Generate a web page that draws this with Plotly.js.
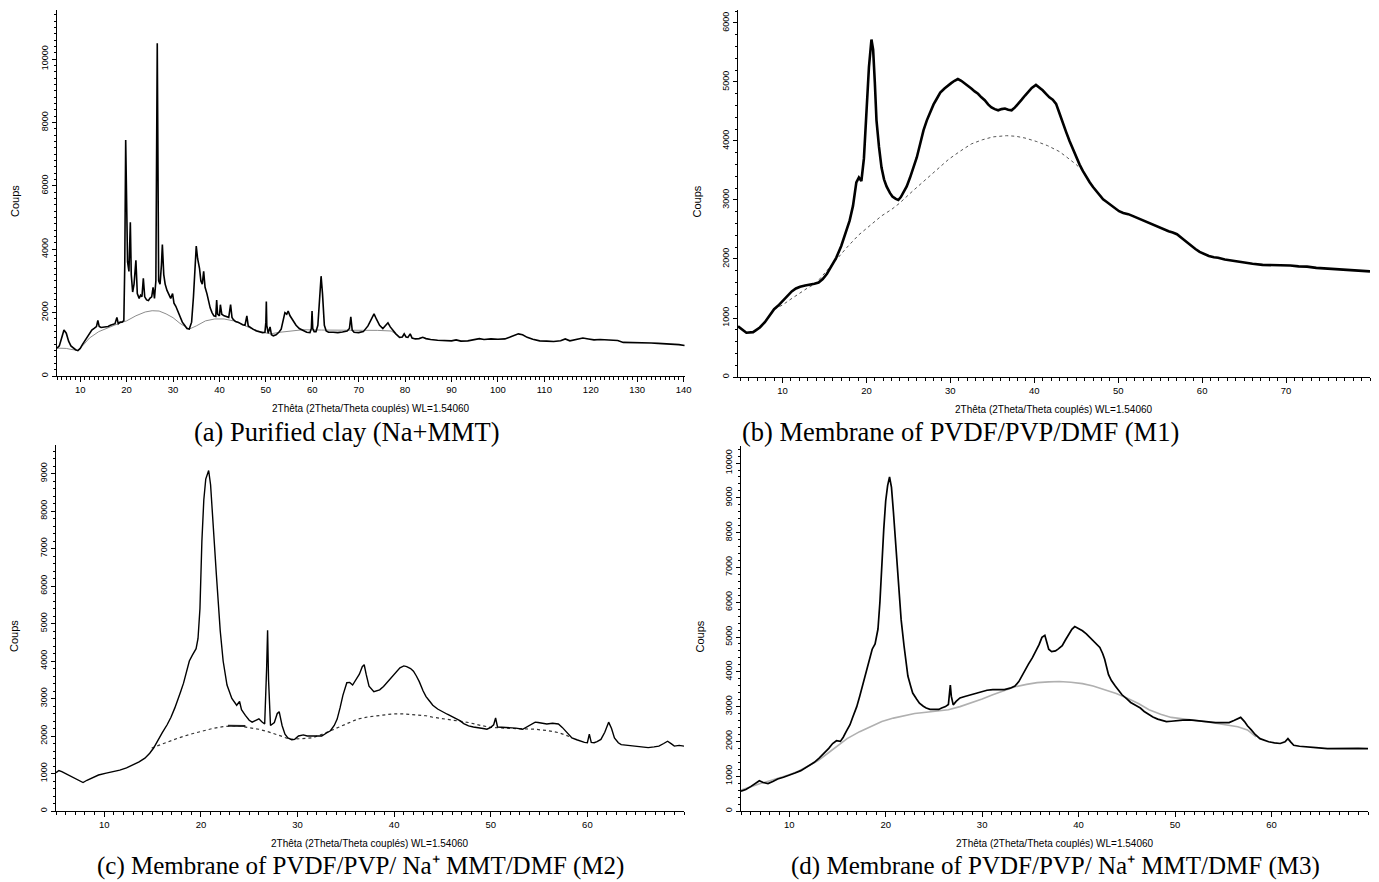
<!DOCTYPE html>
<html><head><meta charset="utf-8">
<script src="https://cdn.plot.ly/plotly-3.0.1.min.js"></script>
<style>html,body{margin:0;padding:0;background:#fff}#chart{width:1379px;height:882px}</style>
</head><body><div id="chart"></div>
<script>
// ---------- (a) Purified clay (Na+MMT) ----------
const aTheta = [5.0,5.5,6.0,6.5,7.0,7.5,8.0,8.5,9.0,9.5,10.0,10.5,11.0,11.5,12.0,12.5,13.0,13.5,13.8,14.1,14.5,15.0,15.5,16.0,16.5,17.0,17.5,17.9,18.2,18.6,19.0,19.4,19.6,19.8,20.0,20.2,20.5,20.8,21.0,21.3,21.6,22.0,22.3,22.7,23.0,23.3,23.6,23.9,24.3,24.7,25.0,25.4,25.7,26.0,26.3,26.6,26.9,27.2,27.5,27.7,28.0,28.3,28.7,29.0,29.5,29.9,30.2,30.6,31.0,31.5,32.0,32.5,33.0,33.5,34.0,34.4,34.8,35.0,35.3,35.7,36.0,36.3,36.6,36.9,37.3,37.7,38.0,38.4,38.8,39.2,39.4,39.6,40.0,40.2,40.5,41.0,41.5,42.0,42.4,42.7,43.0,43.5,44.0,44.5,45.0,45.5,45.9,46.2,46.7,47.3,48.0,48.7,49.3,49.8,50.0,50.1,50.2,50.5,50.9,51.2,51.6,52.2,52.8,53.3,53.7,54.1,54.5,54.8,55.2,55.8,56.5,57.2,58.0,58.8,59.5,59.8,59.95,60.1,60.4,60.8,61.2,61.6,61.9,62.2,62.6,63.0,63.5,64.5,65.5,66.5,67.5,68.0,68.3,68.6,69.0,70.0,71.0,72.0,72.6,73.3,73.8,74.5,75.2,75.8,76.3,76.8,77.4,78.0,78.8,79.4,79.8,80.2,80.6,81.1,81.5,82.2,83.0,83.8,84.5,85.5,87.0,88.5,90.0,91.0,92.0,93.5,95.0,96.0,97.0,98.5,100.0,101.5,102.5,103.5,104.4,105.3,106.3,107.5,109.0,110.5,112.0,113.5,114.5,115.5,117.0,118.3,119.5,120.7,122.0,123.5,124.6,125.8,127.0,128.5,130.0,131.5,133.0,134.5,136.0,137.5,139.0,140.2];
const aCounts = [880,950,1200,1450,1350,1100,950,880,830,800,870,1000,1120,1250,1360,1450,1500,1560,1750,1560,1530,1540,1570,1560,1600,1620,1650,1850,1650,1700,1700,1750,3500,7450,5000,3600,3300,4850,3200,2650,2900,3650,2600,2450,2550,2500,3080,2500,2400,2380,2450,2500,2800,2450,3000,10500,3000,2900,3500,4150,3200,2900,2700,2600,2450,2600,2300,2200,2050,1850,1700,1600,1500,1480,1700,2500,3800,4100,3700,3400,3000,2900,3300,2800,2600,2300,2150,2000,1900,1880,2400,1950,1900,2250,1950,1900,1880,1850,2250,1850,1780,1720,1700,1650,1620,1600,1900,1580,1520,1470,1420,1380,1370,1380,1700,2350,1600,1350,1550,1300,1270,1300,1380,1480,1800,2000,1950,2050,1900,1750,1600,1500,1430,1380,1370,1500,2050,1500,1400,1400,1600,2600,3150,2600,1600,1420,1380,1380,1370,1390,1420,1500,1870,1450,1380,1370,1400,1580,1750,1960,1800,1600,1500,1600,1680,1550,1420,1330,1220,1230,1330,1230,1220,1330,1200,1170,1180,1220,1180,1150,1130,1120,1110,1140,1100,1110,1140,1180,1150,1170,1160,1170,1220,1290,1330,1300,1220,1160,1110,1100,1090,1110,1170,1110,1150,1200,1170,1140,1150,1140,1150,1120,1060,1060,1050,1060,1040,1030,1020,1010,990,960];
const aBgTheta = [5,6,7,8,9,9.5,10.5,12,14,16,18,20,22,24,25.5,27,28.5,30,31.5,33.5,35,37,39,41,43,45,47,49,51,53,55,58,62,66,70,74,77,78];
const aBgCounts = [880,880,870,840,820,810,950,1200,1400,1530,1640,1740,1900,2020,2060,2050,1960,1840,1660,1480,1580,1740,1800,1800,1740,1620,1490,1390,1330,1380,1420,1460,1450,1450,1440,1440,1420,1330];

// ---------- (b) Membrane of PVDF/PVP/DMF (M1) ----------
const bTheta = [4.7,5.2,5.7,6.5,7.3,7.9,8.5,9.0,9.5,10.0,10.5,11.1,11.6,12.1,12.7,13.2,13.8,14.3,14.8,15.3,15.8,16.4,17.0,17.5,18.0,18.4,18.8,19.1,19.4,19.7,20.0,20.3,20.6,20.8,21.0,21.2,21.5,21.8,22.1,22.4,22.8,23.1,23.5,23.8,24.1,24.4,24.8,25.2,25.6,26.0,26.4,26.8,27.2,27.6,28.0,28.4,28.8,29.3,29.7,30.1,30.5,30.9,31.3,31.7,32.1,32.5,32.9,33.3,33.7,34.1,34.5,34.9,35.3,35.7,36.1,36.5,36.9,37.3,37.7,38.1,38.5,38.9,39.3,39.7,40.2,40.6,41.0,41.4,41.8,42.2,42.6,43.0,43.4,43.8,44.2,44.6,45.0,45.4,45.8,46.2,46.6,47.0,47.4,47.8,48.2,48.6,49.0,49.5,50.1,50.6,51.2,51.7,52.2,52.8,53.3,53.8,54.4,55.0,55.5,56.0,56.5,57.0,57.6,58.1,58.7,59.2,59.7,60.3,60.8,61.4,61.9,62.7,63.5,64.3,65.1,66.0,67.2,68.3,69.4,70.5,71.5,72.5,73.6,74.7,75.8,76.9,77.9,79.0,80.0];
const bCounts = [860,800,750,760,840,930,1060,1150,1210,1280,1360,1450,1500,1530,1550,1560,1580,1600,1660,1750,1870,2020,2220,2420,2650,2900,3300,3380,3320,3700,4500,5250,5720,5550,5000,4350,3900,3550,3350,3230,3120,3060,3020,3000,3050,3120,3230,3380,3550,3720,3950,4180,4350,4490,4620,4720,4820,4890,4940,4980,5020,5050,5020,4980,4930,4890,4840,4800,4740,4690,4620,4570,4540,4520,4540,4550,4530,4520,4570,4630,4700,4770,4840,4900,4950,4910,4860,4800,4740,4700,4630,4470,4290,4150,4000,3860,3720,3600,3490,3390,3300,3220,3150,3080,3010,2970,2930,2870,2810,2780,2760,2730,2700,2660,2630,2600,2560,2530,2500,2470,2450,2420,2350,2290,2220,2170,2120,2080,2050,2030,2020,1990,1970,1950,1930,1920,1900,1900,1900,1890,1875,1870,1850,1840,1820,1810,1800,1800,1790];
const bBgTheta = [9,10,11,12,13,14,15,16.4,17.7,19.1,20.5,21.8,23.0,23.9,25.5,27.1,28.5,29.8,31.2,32.5,33.8,35.1,36.7,37.8,38.9,40.3,41.6,43.0,44.2,45.0,45.8];
const bBgCounts = [1150,1220,1320,1420,1510,1590,1760,1990,2200,2410,2580,2730,2840,2940,3150,3350,3530,3690,3830,3950,4020,4070,4090,4080,4050,3990,3920,3820,3690,3600,3490];

// ---------- (c) Membrane of PVDF/PVP/ Na+ MMT/DMF (M2) ----------
const cTheta = [5.0,5.3,5.6,6.0,6.5,7.0,7.5,7.8,8.2,8.8,9.4,10.2,11.0,11.6,12.3,13.0,13.6,14.2,14.7,15.1,15.5,16.0,16.5,16.9,17.3,17.6,17.9,18.2,18.5,18.8,19.1,19.5,19.7,19.9,20.1,20.3,20.5,20.8,21.0,21.2,21.4,21.6,21.8,22.0,22.3,22.7,23.2,23.7,24.0,24.2,24.6,25.0,25.3,25.7,26.0,26.3,26.6,26.8,26.9,27.0,27.2,27.6,27.9,28.1,28.4,28.7,29.0,29.4,29.7,30.1,30.6,31.0,31.5,32.0,32.5,33.0,33.4,33.8,34.1,34.4,34.7,35.1,35.4,35.7,36.0,36.4,36.7,36.9,37.1,37.4,37.9,38.2,38.5,38.9,39.2,39.6,39.9,40.3,40.6,41.0,41.3,41.7,42.0,42.3,42.6,43.0,43.3,43.7,44.0,44.5,45.0,45.5,45.9,46.4,46.8,47.2,47.7,48.2,48.7,49.2,49.6,50.0,50.3,50.5,50.7,51.2,51.9,52.6,53.3,53.8,54.2,54.6,54.9,55.4,55.8,56.4,57.0,57.4,57.7,58.1,58.4,58.9,59.3,59.7,60.0,60.2,60.4,60.7,61.0,61.4,61.8,62.2,62.5,62.8,63.2,63.5,64.2,64.9,65.6,66.3,66.9,67.4,67.9,68.3,68.7,69.0,69.5,70.0];
const cCounts = [1020,1080,1050,1000,930,870,800,760,820,900,960,1010,1050,1090,1150,1230,1310,1410,1540,1680,1870,2090,2300,2500,2750,2950,3180,3410,3700,4000,4150,4330,4600,5400,7200,8300,8850,9080,8700,8000,7100,6300,5550,4800,4000,3360,3000,2820,2920,2700,2550,2420,2370,2420,2460,2380,2320,3800,4820,3500,2280,2360,2600,2650,2280,2050,1950,1900,1910,2000,2030,2000,2000,1980,2000,2080,2140,2280,2450,2750,3090,3420,3430,3360,3480,3650,3850,3900,3650,3330,3180,3200,3230,3320,3410,3530,3640,3740,3820,3870,3850,3800,3730,3600,3450,3200,3050,2920,2820,2720,2640,2580,2530,2470,2410,2330,2270,2240,2230,2200,2180,2230,2300,2480,2240,2230,2230,2210,2180,2250,2320,2370,2360,2330,2320,2340,2320,2230,2140,2030,1950,1900,1860,1830,1820,2050,1830,1820,1850,1910,2100,2370,2200,1950,1820,1770,1750,1730,1710,1690,1710,1730,1800,1860,1790,1730,1750,1730];
const cBgTheta = [14.9,15.5,16.5,17.6,18.8,20.0,21.2,22.3,23.2,24.1,25.0,26.0,27.0,27.8,28.5,29.2,30.3,31.5,32.6,33.8,35.0,36.2,37.3,38.5,39.9,41.0,42.2,43.3,44.0,45.9,47.7,49.0,50.0,52.3,54.6,56.0,57.0,57.8,58.4];
const cBgCounts = [1680,1740,1840,1940,2040,2130,2200,2250,2270,2260,2230,2180,2110,2050,1980,1910,1920,1950,2050,2180,2320,2450,2510,2550,2590,2590,2570,2540,2500,2430,2360,2280,2230,2200,2180,2140,2090,2020,1950];
const cBgMarkTheta = [22.8, 24.6];
const cBgMarkCounts = [2275, 2270];

// ---------- (d) Membrane of PVDF/PVP/ Na+ MMT/DMF (M3) ----------
const dTheta = [5.0,5.5,6.0,6.5,6.9,7.3,7.8,8.3,8.8,9.4,10.0,10.6,11.2,11.9,12.6,13.1,13.6,14.1,14.5,14.9,15.3,15.6,15.9,16.3,16.6,17.0,17.3,17.6,17.9,18.3,18.6,18.9,19.2,19.4,19.6,19.8,20.0,20.2,20.4,20.6,20.8,21.0,21.2,21.4,21.6,21.9,22.1,22.3,22.6,22.8,23.2,23.5,23.9,24.2,24.6,25.1,25.5,25.8,26.2,26.5,26.6,26.7,26.8,27.0,27.3,27.7,28.2,28.8,29.4,30.0,30.5,31.1,31.7,32.3,32.9,33.4,33.8,34.1,34.5,34.8,35.2,35.5,35.9,36.2,36.5,36.7,36.9,37.2,37.6,37.9,38.3,38.6,39.0,39.3,39.6,40.1,40.4,40.8,41.1,41.5,41.8,42.2,42.5,42.7,43.1,43.4,43.8,44.2,44.5,45.0,45.4,45.9,46.4,46.8,47.3,47.7,48.2,48.6,49.1,49.6,50.1,50.8,51.5,52.2,52.8,53.5,54.2,54.9,55.6,56.1,56.5,56.8,57.2,57.5,57.9,58.3,58.8,59.3,59.7,60.3,60.9,61.4,61.7,62.0,62.3,62.9,63.5,64.6,65.8,66.9,68.1,69.0,70.0];
const dCounts = [570,620,700,800,870,820,790,850,920,970,1020,1090,1160,1270,1400,1520,1650,1800,1940,2020,2000,2120,2280,2480,2710,3000,3290,3600,3920,4300,4650,4800,5230,6000,7170,8100,8910,9350,9600,9300,8600,7750,6900,6200,5500,4750,4250,3880,3580,3390,3220,3100,3010,2960,2920,2910,2920,2960,3000,3060,3400,3620,3300,3050,3150,3250,3290,3340,3400,3440,3470,3490,3480,3490,3530,3590,3720,3880,4050,4220,4400,4550,4780,4990,5050,4850,4650,4580,4600,4660,4750,4900,5090,5220,5300,5230,5180,5090,5000,4890,4800,4700,4520,4360,3920,3750,3590,3450,3340,3220,3120,3040,2960,2860,2760,2700,2640,2600,2570,2580,2600,2610,2620,2600,2570,2560,2540,2540,2540,2600,2660,2690,2570,2450,2330,2200,2080,2030,1990,1960,1940,1990,2080,1980,1890,1860,1840,1820,1790,1800,1790,1800,1790];
const dBgTheta = [5.0,6.0,7.0,8.0,9.0,10.0,11.0,12.0,13.0,14.0,15.0,16.0,17.3,18.5,19.6,20.8,21.9,23.0,24.2,25.4,26.5,27.7,28.8,30.0,31.1,32.3,33.4,34.6,35.7,36.9,38.0,39.2,40.4,41.5,42.7,43.9,45.0,46.2,47.3,48.5,49.6,50.8,51.9,53.0,54.2,55.4,56.5,57.5,58.4];
const dBgCounts = [600,700,790,870,950,1040,1150,1290,1450,1660,1880,2080,2280,2440,2570,2670,2740,2800,2840,2880,2910,3000,3100,3220,3340,3460,3570,3640,3690,3710,3720,3700,3660,3590,3490,3380,3250,3090,2910,2780,2690,2650,2620,2570,2520,2470,2420,2330,2130];

// ---------- text ----------
const xTickLabelsA = ['10','20','30','40','50','60','70','80','90','100','110','120','130','140'];
const xTickLabelsB = ['10','20','30','40','50','60','70'];
const xTickLabelsCD = ['10','20','30','40','50','60'];
const xTitleText = '2Thêta (2Theta/Theta couplés) WL=1.54060';
const yTitleText = 'Coups';
const captions = ['(a) Purified clay (Na+MMT)', '(b) Membrane of PVDF/PVP/DMF (M1)',
  '(c) Membrane of PVDF/PVP/ Na⁺ MMT/DMF (M2)', '(d) Membrane of PVDF/PVP/ Na⁺ MMT/DMF (M3)'];

// ---------- layout helpers (pixel -> paper) ----------
const W = 1379, H = 882;
const px = v => v / W;
const py = v => 1 - v / H;

function xAxisDef(x0, x1, range, labels, anchor) {
  return {
    domain: [px(x0), px(x1)], range: range, anchor: anchor,
    tickmode: 'array', tickvals: labels.map(Number), ticktext: labels,
    ticks: 'outside', ticklen: 5, tickwidth: 1, tickcolor: '#000',
    minor: {tickmode: 'linear', tick0: 0, dtick: 1, ticks: 'outside', ticklen: 3, tickwidth: 1, tickcolor: '#000', showgrid: false},
    showline: true, linecolor: '#000', linewidth: 1, showgrid: false, zeroline: false,
    tickfont: {family: 'Liberation Sans, Arial, sans-serif', size: 9.5, color: '#000'}, fixedrange: true
  };
}
function yAxisDef(y0, y1, range, dtick, anchor) {
  return {
    domain: [py(y1), py(y0)], range: range, anchor: anchor,
    tickmode: 'linear', tick0: 0, dtick: dtick, tickangle: -90, tickformat: 'd', exponentformat: 'none',
    ticks: 'outside', ticklen: 4, tickwidth: 1, tickcolor: '#000',
    minor: {tickmode: 'linear', tick0: 0, dtick: 200, ticks: 'outside', ticklen: 2, tickwidth: 1, tickcolor: '#000', showgrid: false},
    showline: true, linecolor: '#000', linewidth: 1, showgrid: false, zeroline: false,
    tickfont: {family: 'Liberation Sans, Arial, sans-serif', size: 9, color: '#000'}, fixedrange: true
  };
}

const P = {
  a: {x0: 57, x1: 685, y0: 10, y1: 376},
  b: {x0: 738, x1: 1370, y0: 10, y1: 377},
  c: {x0: 56, x1: 684, y0: 445, y1: 811},
  d: {x0: 741, x1: 1368, y0: 446, y1: 811}
};

const traces = [
  {x: aBgTheta, y: aBgCounts, xaxis: 'x', yaxis: 'y', mode: 'lines', line: {color: '#8c8c8c', width: 1}, hoverinfo: 'skip'},
  {x: aTheta, y: aCounts, xaxis: 'x', yaxis: 'y', mode: 'lines', line: {color: '#000', width: 1.6}},
  {x: bBgTheta, y: bBgCounts, xaxis: 'x2', yaxis: 'y2', mode: 'lines', line: {color: '#555', width: 1, dash: 'dot'}, hoverinfo: 'skip'},
  {x: bTheta, y: bCounts, xaxis: 'x2', yaxis: 'y2', mode: 'lines', line: {color: '#000', width: 2.6}},
  {x: cBgTheta, y: cBgCounts, xaxis: 'x3', yaxis: 'y3', mode: 'lines', line: {color: '#333', width: 1.2, dash: 'dot'}, hoverinfo: 'skip'},
  {x: cBgMarkTheta, y: cBgMarkCounts, xaxis: 'x3', yaxis: 'y3', mode: 'lines', line: {color: '#222', width: 2}, hoverinfo: 'skip'},
  {x: cTheta, y: cCounts, xaxis: 'x3', yaxis: 'y3', mode: 'lines', line: {color: '#000', width: 1.4}},
  {x: dBgTheta, y: dBgCounts, xaxis: 'x4', yaxis: 'y4', mode: 'lines', line: {color: '#b0b0b0', width: 1.6}, hoverinfo: 'skip'},
  {x: dTheta, y: dCounts, xaxis: 'x4', yaxis: 'y4', mode: 'lines', line: {color: '#000', width: 1.7}}
];

const ann = [];
const titleFont = {family: 'Liberation Sans Narrow, Liberation Sans, Arial, sans-serif', size: 10, color: '#000'};
const coupsFont = {family: 'Liberation Sans, Arial, sans-serif', size: 11, color: '#000'};
['a', 'b', 'c', 'd'].forEach(k => {
  const p = P[k];
  ann.push({xref: 'paper', yref: 'paper', x: px((p.x0 + p.x1) / 2), y: py(p.y1 + 32), text: xTitleText,
    showarrow: false, font: titleFont, xanchor: 'center', yanchor: 'middle'});
  ann.push({xref: 'paper', yref: 'paper', x: px(p.x0 - 42), y: py((p.y0 + p.y1) / 2 + 8), text: yTitleText,
    showarrow: false, font: coupsFont, textangle: -90, xanchor: 'center', yanchor: 'middle'});
});
const capPos = [[192, 432, 26.5], [740, 432, 26.5], [95, 866, 25], [789, 866, 25]];
captions.forEach((t, i) => ann.push({xref: 'paper', yref: 'paper', x: px(capPos[i][0]), y: py(capPos[i][1]), text: t,
  showarrow: false, font: {family: 'Liberation Serif, Times New Roman, serif', size: capPos[i][2], color: '#000'},
  xanchor: 'left', yanchor: 'middle'}));

const layout = {
  width: W, height: H, margin: {l: 0, r: 0, t: 0, b: 0},
  paper_bgcolor: '#fff', plot_bgcolor: '#fff', showlegend: false,
  xaxis: xAxisDef(P.a.x0, P.a.x1, [5, 140.3], xTickLabelsA, 'y'),
  yaxis: yAxisDef(P.a.y0, P.a.y1, [0, 11550], 2000, 'x'),
  xaxis2: xAxisDef(P.b.x0, P.b.x1, [4.7, 80], xTickLabelsB, 'y2'),
  yaxis2: yAxisDef(P.b.y0, P.b.y1, [0, 6220], 1000, 'x2'),
  xaxis3: xAxisDef(P.c.x0, P.c.x1, [5, 70], xTickLabelsCD, 'y3'),
  yaxis3: yAxisDef(P.c.y0, P.c.y1, [0, 9760], 1000, 'x3'),
  xaxis4: xAxisDef(P.d.x0, P.d.x1, [5, 70], xTickLabelsCD, 'y4'),
  yaxis4: yAxisDef(P.d.y0, P.d.y1, [0, 10490], 1000, 'x4'),
  annotations: ann
};
Plotly.newPlot('chart', traces, layout, {staticPlot: true, displayModeBar: false});
</script></body></html>
